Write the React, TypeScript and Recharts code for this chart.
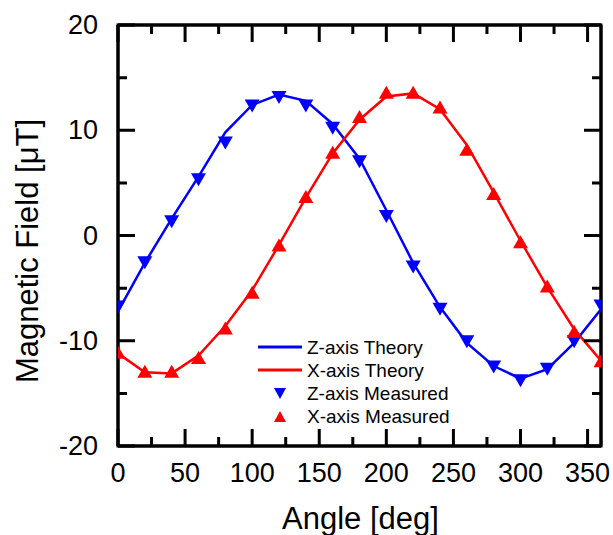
import React from "react";
import { ComposedChart, Line, Scatter, XAxis, YAxis, Legend, ReferenceArea, ReferenceLine } from "recharts";

const angles = [0, 20, 40, 60, 80, 100, 120, 140, 160, 180, 200, 220, 240, 260, 280, 300, 320, 340, 360];
const zTheory = [-7.2, -2.6, 1.6, 5.6, 9.8, 12.4, 13.4, 12.8, 10.6, 7.3, 2.4, -2.6, -6.8, -10.2, -12.4, -13.6, -12.7, -10.2, -7.0];
const xTheory = [-11.2, -13.0, -13.1, -11.4, -8.6, -5.2, -0.9, 3.6, 7.8, 11.0, 13.2, 13.5, 12.0, 8.6, 4.1, -0.5, -4.9, -8.9, -11.9];
const zMeasured = [-6.8, -2.6, 1.3, 5.3, 8.8, 12.3, 13.1, 12.3, 10.2, 7.0, 1.8, -3.0, -7.0, -10.1, -12.5, -13.8, -12.7, -10.1, -6.7];
const xMeasured = [-11.1, -12.9, -12.9, -11.6, -8.8, -5.4, -0.9, 3.7, 7.9, 11.3, 13.6, 13.6, 12.2, 8.2, 4.0, -0.6, -4.8, -9.1, -11.9];

const xTicks = [0, 25, 50, 75, 100, 125, 150, 175, 200, 225, 250, 275, 300, 325, 350];
const yTicks = [-20, -15, -10, -5, 0, 5, 10, 15, 20];

const legendItems = [
  { name: "Z-axis Theory", color: "#0000FF", kind: "line" },
  { name: "X-axis Theory", color: "#FF0000", kind: "line" },
  { name: "Z-axis Measured", color: "#0000FF", kind: "down" },
  { name: "X-axis Measured", color: "#FF0000", kind: "up" },
];

const data = angles.map((a, i) => ({
  angle: a,
  zTheory: zTheory[i],
  xTheory: xTheory[i],
  zMeasured: zMeasured[i],
  xMeasured: xMeasured[i],
}));

const FONT = "'Liberation Sans', Arial, sans-serif";
const W = 613;
const H = 535;
const M = { top: 25, right: 12, bottom: 0, left: 0 };
const Y_AXIS_W = 118;
const X_AXIS_H = 89;
const PLOT_W = W - M.right - Y_AXIS_W - M.left;
const PLOT_H = H - M.top - X_AXIS_H - M.bottom;
const MAJOR = 17;
const MINOR = 9;

const BottomTick = (props: any) => {
  const { x, y, payload } = props;
  const v = payload.value;
  const major = v % 50 === 0;
  const len = major ? MAJOR : MINOR;
  const d = `M${x},${y} L${x},${y - len} M${x},${y - PLOT_H} L${x},${y - PLOT_H + len}`;
  return (
    <g>
      <path d={d} stroke="#000000" strokeWidth={3} fill="none" style={{ stroke: "#000000", strokeWidth: 3 }} />
      {major && (
        <text x={x} y={y + 36} textAnchor="middle" fontSize={27} fontFamily={FONT} fill="#000">
          {v}
        </text>
      )}
    </g>
  );
};

const LeftTick = (props: any) => {
  const { x, y, payload } = props;
  const v = payload.value;
  const major = v % 10 === 0;
  const len = major ? MAJOR : MINOR;
  const d = `M${x},${y} L${x + len},${y} M${x + PLOT_W},${y} L${x + PLOT_W - len},${y}`;
  return (
    <g>
      <path d={d} stroke="#000000" strokeWidth={3} fill="none" style={{ stroke: "#000000", strokeWidth: 3 }} />
      {major && (
        <text x={x - 20} y={y + 9} textAnchor="end" fontSize={27} fontFamily={FONT} fill="#000">
          {v}
        </text>
      )}
    </g>
  );
};

const Triangle = (props: any) => {
  const { cx, cy, fill, down } = props;
  if (cx == null || cy == null) return null;
  const w = 7.5;
  const h = 6.5;
  const pts = down
    ? `${cx - w},${cy - h} ${cx + w},${cy - h} ${cx},${cy + h}`
    : `${cx - w},${cy + h} ${cx + w},${cy + h} ${cx},${cy - h}`;
  return <polygon points={pts} fill={fill} />;
};

const LegendContent = () => (
  <svg width={220} height={96} style={{ display: "block" }}>
    {legendItems.map((it, i) => {
      const cy = 11 + i * 23;
      return (
        <g key={it.name}>
          {it.kind === "line" ? (
            <line x1={8} x2={52} y1={cy} y2={cy} stroke={it.color} strokeWidth={3} />
          ) : (
            <polygon
              points={
                it.kind === "down"
                  ? `${24},${cy - 5} ${36},${cy - 5} ${30},${cy + 6}`
                  : `${24},${cy + 6} ${36},${cy + 6} ${30},${cy - 5}`
              }
              fill={it.color}
            />
          )}
          <text x={57} y={cy + 7} fontSize={19} fontFamily={FONT} fill="#000">
            {it.name}
          </text>
        </g>
      );
    })}
  </svg>
);

const YTitle = () => {
  const x = 38;
  const cy = 251;
  return (
    <text
      x={x}
      y={cy}
      transform={`rotate(-90, ${x}, ${cy})`}
      textAnchor="middle"
      fontSize={31}
      fontFamily={FONT}
      fill="#000"
    >
      Magnetic Field [μT]
    </text>
  );
};

const XTitle = (props: any) => {
  const { viewBox } = props;
  const cx = viewBox.x + viewBox.width / 2;
  return (
    <text x={cx + 1} y={529} textAnchor="middle" fontSize={31} fontFamily={FONT} fill="#000">
      Angle [deg]
    </text>
  );
};

const axisLine = { stroke: "#000", strokeWidth: 3 };

export default function App() {
  return (
    <div style={{ position: "absolute", left: 0, top: 0, width: W, height: H, background: "#fff" }}>
      <ComposedChart width={W} height={H} data={data} margin={M}>
        <XAxis
          dataKey="angle"
          type="number"
          domain={[0, 360]}
          ticks={xTicks}
          height={X_AXIS_H}
          orientation="bottom"
          axisLine={axisLine}
          tickLine={false}
          tickSize={0}
          tickMargin={0}
          tick={<BottomTick />}
          interval={0}
          allowDataOverflow
          label={<XTitle />}
        />
        <YAxis
          type="number"
          domain={[-20, 20]}
          ticks={yTicks}
          width={Y_AXIS_W}
          orientation="left"
          axisLine={axisLine}
          tickLine={false}
          tickSize={0}
          tickMargin={0}
          tick={<LeftTick />}
          interval={0}
          allowDataOverflow
          label={<YTitle />}
        />
        <ReferenceArea
          x1={0}
          x2={360}
          y1={-20}
          y2={20}
          fill="#ffffff"
          fillOpacity={0}
          stroke="#000000"
          strokeWidth={3}
          strokeOpacity={1}
          ifOverflow="visible"
        />
        <ReferenceLine x={360} stroke="#000000" strokeWidth={3} ifOverflow="visible" />
        <ReferenceLine y={20} stroke="#000000" strokeWidth={3} ifOverflow="visible" />
        <Legend
          layout="vertical"
          align="center"
          verticalAlign="middle"
          content={<LegendContent />}
          wrapperStyle={{ left: 250, top: 336, width: 220, height: 96 }}
        />
        <Line
          dataKey="zTheory"
          type="linear"
          stroke="#0000FF"
          strokeWidth={2.5}
          dot={false}
          activeDot={false}
          isAnimationActive={false}
          name="Z-axis Theory"
        />
        <Line
          dataKey="xTheory"
          type="linear"
          stroke="#FF0000"
          strokeWidth={2.5}
          dot={false}
          activeDot={false}
          isAnimationActive={false}
          name="X-axis Theory"
        />
        <Scatter
          dataKey="zMeasured"
          fill="#0000FF"
          isAnimationActive={false}
          name="Z-axis Measured"
          shape={(p: any) => <Triangle {...p} fill="#0000FF" down />}
        />
        <Scatter
          dataKey="xMeasured"
          fill="#FF0000"
          isAnimationActive={false}
          name="X-axis Measured"
          shape={(p: any) => <Triangle {...p} fill="#FF0000" />}
        />
      </ComposedChart>
    </div>
  );
}
